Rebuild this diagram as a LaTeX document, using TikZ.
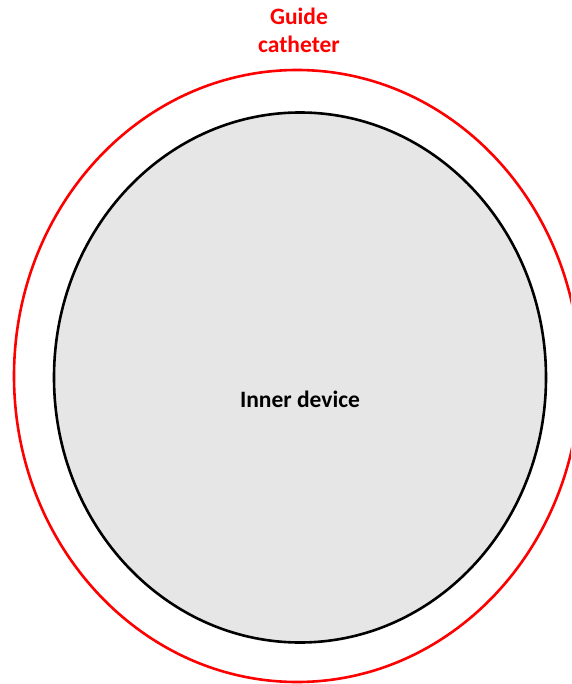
\documentclass[tikz,border=0pt]{standalone}
\usepackage{fontspec}
\setmainfont{Carlito}
\usepackage{xcolor}
\usetikzlibrary{shapes.geometric, positioning}
\definecolor{devgray}{HTML}{E6E6E6}
\tikzset{
  guide/.style  = {ellipse, draw=red, line width=2.6pt, minimum width=566pt,
                   minimum height=612pt, inner sep=0pt},
  device/.style = {ellipse, draw=black, line width=2.6pt, fill=devgray,
                   minimum width=492pt, minimum height=530pt, inner sep=0pt},
  lbl/.style    = {font=\fontsize{23.5}{28}\selectfont\bfseries, align=center},
}
\begin{document}
\begin{tikzpicture}[x=1pt, y=-1pt]

    %% Frame of the picture
    \useasboundingbox (0,0) rectangle (571,684);
    \clip (0,0) rectangle (571,684);

    %% Catheter and device cross sections
    \node[guide]  (cath) at (297, 376)   {};
    \node[device] (dev)  at (300, 377.5) {};

    %% Labels
    \node[lbl]           (devlbl)  at (300, 399) {Inner device};
    \node[lbl, text=red] (cathlbl) at (299, 30)  {Guide\\catheter};

  \end{tikzpicture}
\end{document}
